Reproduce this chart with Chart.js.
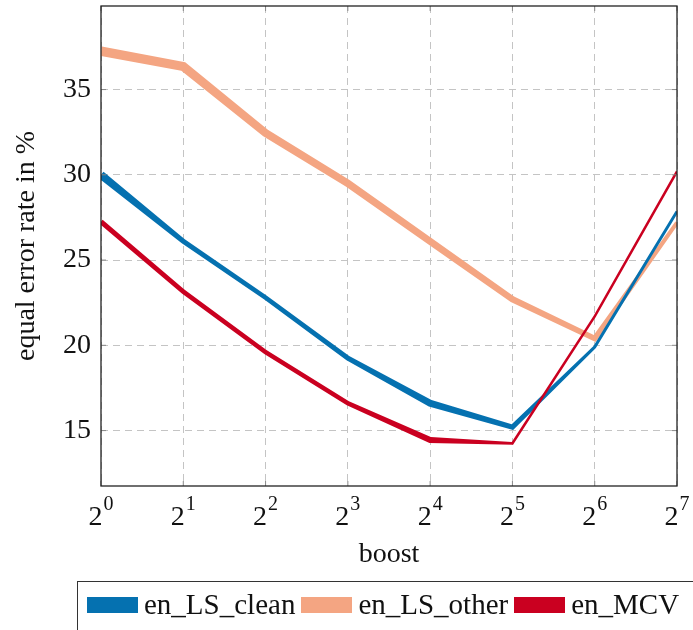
<!DOCTYPE html>
<html>
<head>
<meta charset="utf-8">
<script src="https://cdn.jsdelivr.net/npm/chart.js@4.4.1/dist/chart.umd.min.js"></script>
<style>
  html, body { margin: 0; padding: 0; background: #fff; overflow: hidden; }
  #wrap { position: relative; width: 693px; height: 630px; }
  #legend {
    position: absolute; left: 77px; top: 581px; width: 660px; height: 70px;
    box-sizing: border-box; border: 1.3px solid #333;
    display: flex; align-items: flex-start; padding: 6px 0 0 9px;
    font: 29px "Liberation Serif", serif; color: #111;
  }
  .item { display: flex; align-items: center; margin-right: 6px; white-space: nowrap; }
  .swatch { width: 51px; height: 16px; margin-right: 6px; }
</style>
</head>
<body>
<div id="wrap">
  <canvas id="errChart" width="693" height="630"></canvas>
  <div id="legend"></div>
</div>
<script>
// boost factor exponents: 2^0 ... 2^7
const boostExp = [0, 1, 2, 3, 4, 5, 6, 7];
const errClean = [30.0, 26.1, 22.8, 19.25, 16.6, 15.2, 19.9, 27.85];
const errOther = [37.25, 36.35, 32.45, 29.5, 26.1, 22.7, 20.4, 27.2];
const errMcv   = [27.25, 23.15, 19.6, 16.6, 14.45, 14.25, 21.7, 30.2];
const seriesNames = ["en_LS_clean", "en_LS_other", "en_MCV"];
const yTicks = [15, 20, 25, 30, 35];

// styling
const colors = ["#0571b0", "#f4a582", "#ca0020"];
// stroke width (px) at each point, tapered along each segment
const strokeWidths = [
  [8, 5, 4.5, 5, 7, 5, 3, 3],
  [9.5, 9, 8, 7.5, 7, 6.5, 5.5, 4],
  [5, 4.5, 4.5, 4.5, 6, 2.5, 2.5, 2.5]
];
const drawOrder = [1, 0, 2];
const SERIF = "'Liberation Serif', serif";

// variable-width polylines, positioned from the dataset's own points
const taperedLines = {
  id: "taperedLines",
  afterDatasetsDraw(chart) {
    const ctx = chart.ctx, a = chart.chartArea;
    const segNormal = (p0, p1) => {
      const dx = p1.x - p0.x, dy = p1.y - p0.y, l = Math.hypot(dx, dy) || 1;
      return { x: -dy / l, y: dx / l };
    };
    ctx.save();
    ctx.beginPath();
    ctx.rect(a.left, a.top, a.right - a.left, a.bottom - a.top);
    ctx.clip();
    drawOrder.forEach(i => {
      const pts = chart.getDatasetMeta(i).data;
      const w = strokeWidths[i];
      const left = [], right = [];
      for (let k = 0; k < pts.length; k++) {
        const p = pts[k];
        const n1 = k > 0 ? segNormal(pts[k - 1], p) : segNormal(p, pts[k + 1]);
        const n2 = k < pts.length - 1 ? segNormal(p, pts[k + 1]) : n1;
        let nx = n1.x + n2.x, ny = n1.y + n2.y;
        const nl = Math.hypot(nx, ny) || 1;
        nx /= nl; ny /= nl;
        const m = (w[k] / 2) / Math.max(nx * n1.x + ny * n1.y, 0.3);
        left.push({ x: p.x + nx * m, y: p.y + ny * m });
        right.push({ x: p.x - nx * m, y: p.y - ny * m });
      }
      ctx.beginPath();
      left.forEach((q, k) => k ? ctx.lineTo(q.x, q.y) : ctx.moveTo(q.x, q.y));
      right.reverse().forEach(q => ctx.lineTo(q.x, q.y));
      ctx.closePath();
      ctx.fillStyle = colors[i];
      ctx.fill();
    });
    ctx.restore();
  }
};

// axis box with small inner tick marks on all four sides
const frame = {
  id: "frame",
  afterDraw(chart) {
    const { ctx, chartArea: a, scales } = chart;
    ctx.save();
    ctx.strokeStyle = "#888";
    ctx.lineWidth = 1;
    ctx.beginPath();
    scales.x.ticks.forEach((t, i) => {
      const x = scales.x.getPixelForTick(i);
      ctx.moveTo(x, a.bottom); ctx.lineTo(x, a.bottom - 5);
      ctx.moveTo(x, a.top); ctx.lineTo(x, a.top + 5);
    });
    scales.y.ticks.forEach((t, i) => {
      const y = scales.y.getPixelForTick(i);
      ctx.moveTo(a.left, y); ctx.lineTo(a.left + 5, y);
      ctx.moveTo(a.right, y); ctx.lineTo(a.right - 5, y);
    });
    ctx.stroke();
    ctx.strokeStyle = "#222";
    ctx.lineWidth = 1.3;
    ctx.strokeRect(a.left, a.top, a.right - a.left, a.bottom - a.top);
    ctx.restore();
  }
};

// x tick labels as 2 with a raised exponent
const powerLabels = {
  id: "powerLabels",
  afterDraw(chart) {
    const { ctx, chartArea: a, scales: { x } } = chart;
    ctx.save();
    ctx.fillStyle = "#111";
    ctx.textBaseline = "alphabetic";
    ctx.textAlign = "left";
    boostExp.forEach((e, i) => {
      const px = x.getPixelForTick(i);
      ctx.font = "28px " + SERIF;
      const bw = ctx.measureText("2").width;
      ctx.font = "20px " + SERIF;
      const ew = ctx.measureText(String(e)).width;
      const x0 = px - (bw + ew + 1) / 2;
      ctx.font = "28px " + SERIF;
      ctx.fillText("2", x0, a.bottom + 39);
      ctx.font = "20px " + SERIF;
      ctx.fillText(String(e), x0 + bw + 1, a.bottom + 24);
    });
    ctx.restore();
  }
};

const series = [errClean, errOther, errMcv];

const chart = new Chart(document.getElementById("errChart"), {
  type: "line",
  data: {
    labels: boostExp.map(e => "2^" + e),
    datasets: series.map((vals, i) => ({
      label: seriesNames[i],
      data: vals,
      borderColor: colors[i],
      backgroundColor: colors[i],
      showLine: false,
      pointRadius: 0
    }))
  },
  options: {
    responsive: false,
    animation: false,
    layout: { padding: { top: 6, right: 16, bottom: 55, left: 0 } },
    plugins: { legend: { display: false }, tooltip: { enabled: false } },
    scales: {
      x: {
        type: "category",
        offset: false,
        grid: { color: "#c4c4c4", lineWidth: 1, drawTicks: false, offset: false },
        border: { display: false, dash: [7, 5] },
        ticks: { display: false },
        title: { display: true, text: "boost", color: "#111", font: { family: SERIF, size: 28 }, padding: { top: 0, bottom: 4 } },
        afterFit(scale) {
          scale.height = 89;
          scale.paddingLeft = 0;
          scale.paddingRight = 0;
        }
      },
      y: {
        type: "linear",
        min: 11.75,
        max: 39.9,
        afterBuildTicks(scale) { scale.ticks = yTicks.map(v => ({ value: v })); },
        grid: { color: "#c4c4c4", lineWidth: 1, drawTicks: false },
        border: { display: false, dash: [7, 5] },
        ticks: { color: "#111", font: { family: SERIF, size: 28 }, padding: 10 },
        title: { display: true, text: "equal error rate in %", color: "#111", font: { family: SERIF, size: 28 }, padding: { top: 10, bottom: 0 } },
        afterFit(scale) {
          scale.width = 101;
          scale.paddingTop = 0;
          scale.paddingBottom = 0;
        }
      }
    }
  },
  plugins: [taperedLines, frame, powerLabels]
});

// legend row in the box below the axes
const legend = document.getElementById("legend");
chart.data.datasets.forEach(ds => {
  const item = document.createElement("div");
  item.className = "item";
  const sw = document.createElement("span");
  sw.className = "swatch";
  sw.style.background = ds.backgroundColor;
  item.appendChild(sw);
  item.appendChild(document.createTextNode(ds.label));
  legend.appendChild(item);
});
</script>
</body>
</html>
